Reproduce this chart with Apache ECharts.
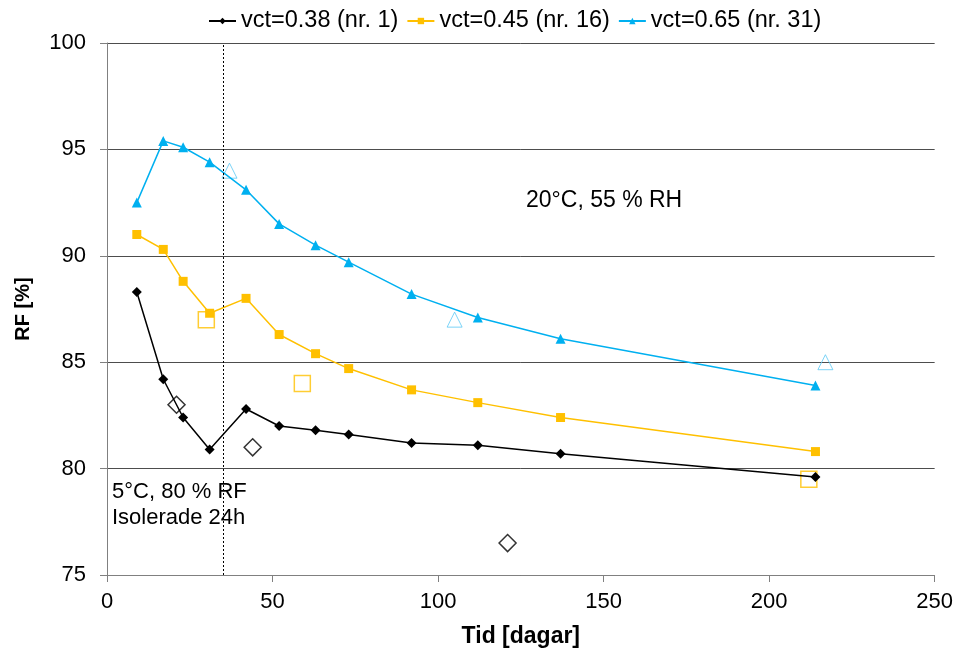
<!DOCTYPE html>
<html><head><meta charset="utf-8">
<script src="https://cdn.jsdelivr.net/npm/echarts@6/dist/echarts.min.js"></script>
<style>html,body{margin:0;padding:0;background:#fff}#c{width:956px;height:653px}</style>
</head><body><div id="c"></div>
<script>
const days = [9, 17, 23, 31, 42, 52, 63, 73, 92, 112, 137, 214];
const rf038 = [88.3, 84.2, 82.4, 80.9, 82.8, 82.0, 81.8, 81.6, 81.2, 81.1, 80.7, 79.6];
const rf045 = [91.0, 90.3, 88.8, 87.3, 88.0, 86.3, 85.4, 84.7, 83.7, 83.1, 82.4, 80.8];
const rf065 = [92.5, 95.4, 95.1, 94.4, 93.1, 91.5, 90.5, 89.7, 88.2, 87.1, 86.1, 83.9];
const extra038 = [[21, 83.0], [44, 81.0], [121, 76.5]];
const extra045 = [[30, 87.0], [59, 84.0], [212, 79.5]];
const extra065 = [[37, 94.0], [105, 87.0], [217, 85.0]];
const names = ['vct=0.38 (nr. 1)', 'vct=0.45 (nr. 16)', 'vct=0.65 (nr. 31)'];
const xTicks = [0, 50, 100, 150, 200, 250];
const yTicks = [75, 80, 85, 90, 95, 100];
const markerDay = 35;
const colors = ['#000000', '#FFC000', '#00B0F0'];
const font = 'Liberation Sans, Arial, sans-serif';

const zip = (xs, ys) => xs.map((x, i) => [x, ys[i]]);
const chart = echarts.init(document.getElementById('c'));
chart.setOption({
  animation: false,
  textStyle: {fontFamily: font},
  legend: {
    data: names, top: 4, left: 203, itemWidth: 27, itemHeight: 8, itemGap: 8,
    textStyle: {fontSize: 23.5, color: '#000', fontFamily: font}
  },
  grid: {left: 107, right: 21, top: 43, bottom: 78},
  xAxis: {
    type: 'value', min: xTicks[0], max: xTicks[xTicks.length - 1], interval: 50,
    name: 'Tid [dagar]', nameLocation: 'middle', nameGap: 50,
    nameTextStyle: {fontSize: 23, fontWeight: 'bold', color: '#000', fontFamily: font},
    axisLine: {lineStyle: {color: '#808080', width: 1}},
    axisTick: {show: true, length: 7, lineStyle: {color: '#808080'}},
    axisLabel: {fontSize: 22, color: '#000', margin: 16, fontFamily: font},
    splitLine: {show: false}
  },
  yAxis: {
    type: 'value', min: yTicks[0], max: yTicks[yTicks.length - 1], interval: 5,
    name: 'RF [%]', nameLocation: 'middle', nameGap: 74, nameRotate: 90,
    nameTextStyle: {fontSize: 20, fontWeight: 'bold', color: '#000', fontFamily: font},
    axisLine: {show: true, lineStyle: {color: '#808080', width: 1}},
    axisTick: {show: true, length: 7, lineStyle: {color: '#808080'}},
    axisLabel: {fontSize: 22, color: '#000', margin: 21, fontFamily: font},
    splitLine: {show: true, lineStyle: {color: '#4d4d4d', width: 1}}
  },
  series: [
    {name: names[0], type: 'line', data: zip(days, rf038), color: colors[0],
     symbol: 'diamond', symbolSize: 10, lineStyle: {width: 1.5, color: colors[0]},
     itemStyle: {color: colors[0]},
     markLine: {silent: true, symbol: 'none', label: {show: false},
       lineStyle: {type: [2, 2], color: '#000', width: 1}, data: [{xAxis: markerDay}]}},
    {name: names[1], type: 'line', data: zip(days, rf045), color: colors[1],
     symbol: 'rect', symbolSize: 9, lineStyle: {width: 1.5, color: colors[1]},
     itemStyle: {color: colors[1]}},
    {name: names[2], type: 'line', data: zip(days, rf065), color: colors[2],
     symbol: 'triangle', symbolSize: 10, lineStyle: {width: 1.5, color: colors[2]},
     itemStyle: {color: colors[2]}},
    {type: 'scatter', data: extra038, symbol: 'diamond', symbolSize: 17,
     itemStyle: {color: '#fff', borderColor: '#000', borderWidth: 1.5}},
    {type: 'scatter', data: extra045, symbol: 'rect', symbolSize: 16,
     itemStyle: {color: 'rgba(255,255,255,0)', borderColor: '#FFC000', borderWidth: 1.5}},
    {type: 'scatter', data: extra065, symbol: 'triangle', symbolSize: 15,
     itemStyle: {color: 'rgba(255,255,255,0)', borderColor: '#5BC8F5', borderWidth: 1}}
  ],
  graphic: [
    {type: 'text', left: 526, top: 189, style: {text: '20°C, 55 % RH', font: '23px ' + font, fill: '#000'}},
    {type: 'text', left: 112, top: 479, style: {text: '5°C, 80 % RF\nIsolerade 24h', font: '22px ' + font, fill: '#000', lineHeight: 26}}
  ]
});
</script></body></html>
